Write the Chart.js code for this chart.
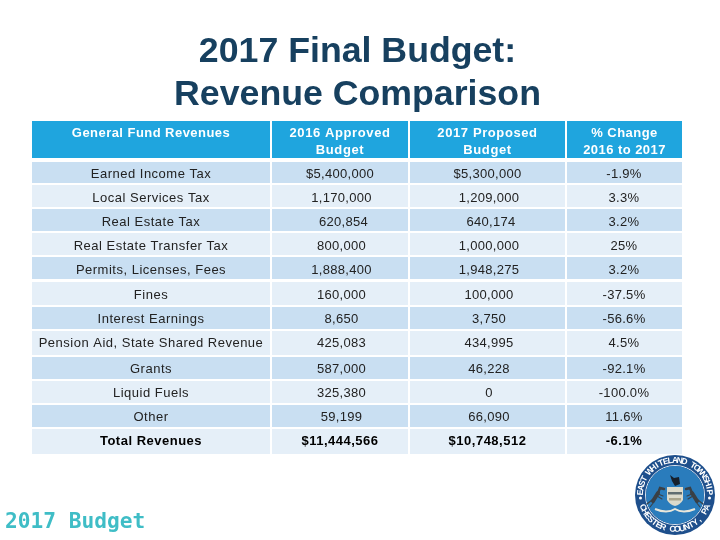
<!DOCTYPE html>
<html>
<head>
<meta charset="utf-8">
<style>html,body{margin:0;padding:0;background:#fff}canvas{display:block}</style>
<script src="https://cdn.jsdelivr.net/npm/chart.js@4"></script>
</head>
<body>
<canvas id="c" width="720" height="540"></canvas>
<script>
const titleLines = ['2017 Final Budget:', 'Revenue Comparison'];
const footerText = '2017 Budget';
const headers = [['General Fund Revenues'], ['2016 Approved', 'Budget'], ['2017 Proposed', 'Budget'], ['% Change', '2016 to 2017']];
const categories = ['Earned Income Tax', 'Local Services Tax', 'Real Estate Tax', 'Real Estate Transfer Tax', 'Permits, Licenses, Fees', 'Fines', 'Interest Earnings', 'Pension Aid, State Shared Revenue', 'Grants', 'Liquid Fuels', 'Other', 'Total Revenues'];
const approved2016 = ['$5,400,000', '1,170,000', '620,854', '800,000', '1,888,400', '160,000', '8,650', '425,083', '587,000', '325,380', '59,199', '$11,444,566'];
const proposed2017 = ['$5,300,000', '1,209,000', '640,174', '1,000,000', '1,948,275', '100,000', '3,750', '434,995', '46,228', '0', '66,090', '$10,748,512'];
const pctChange = ['-1.9%', '3.3%', '3.2%', '25%', '3.2%', '-37.5%', '-56.6%', '4.5%', '-92.1%', '-100.0%', '11.6%', '-6.1%'];

// layout (pixel grid of the linear scales)
const colEdges = [[32, 270], [272, 408], [410, 565], [567, 682]];
const rowEdges = [[121, 158], [162, 183], [185, 207], [209, 231], [233, 255], [257, 279], [282, 305], [307, 329], [331, 355], [357, 379], [381, 403], [405, 427], [429, 454]];
const rowTextY = [133, 174, 198, 222, 246, 270, 295, 319, 343, 369, 393, 417, 441];
const bodyTextDx = [0, 1.5, 1.5, -0.5];
const paddedRow = 2; // the Real Estate Tax figures sit further right in their cells
const TOP = 117;
const HEADER = '#1fa5de', DARK = '#c9dff2', LIGHT = '#e5eff8';
const columns = [categories, approved2016, proposed2017, pctChange];

const datasets = columns.map((col, c) => ({
  label: headers[c].join(' '),
  stack: 'table',
  barThickness: colEdges[c][1] - colEdges[c][0],
  inflateAmount: 0,
  borderWidth: 0,
  backgroundColor: rowEdges.map((_, r) => r === 0 ? HEADER : (r % 2 ? DARK : LIGHT)),
  data: rowEdges.map(e => ({ x: (colEdges[c][0] + colEdges[c][1]) / 2, y: [e[0], e[1]] }))
}));

function seal(ctx) {
  const cx = 675, cy = 495;
  ctx.save();
  ctx.translate(cx, cy);
  ctx.fillStyle = '#1e4f8c';
  ctx.beginPath(); ctx.arc(0, 0, 40, 0, Math.PI * 2); ctx.fill();
  ctx.strokeStyle = '#dfe8f2'; ctx.lineWidth = 1;
  ctx.beginPath(); ctx.arc(0, 0, 29.5, 0, Math.PI * 2); ctx.stroke();
  ctx.fillStyle = '#2a7cbc';
  ctx.beginPath(); ctx.arc(0, 0, 29, 0, Math.PI * 2); ctx.fill();
  // ring text
  ctx.fillStyle = '#ffffff';
  ctx.font = 'bold 8.5px "Liberation Sans"';
  ctx.textAlign = 'center'; ctx.textBaseline = 'middle';
  const top = 'EAST WHITELAND TOWNSHIP', bottom = 'CHESTER COUNTY, PA';
  [...top].forEach((ch, i) => {
    const a = (i - (top.length - 1) / 2) * 0.136;
    ctx.save(); ctx.rotate(a); ctx.fillText(ch, 0, -34.5); ctx.restore();
  });
  [...bottom].forEach((ch, i) => {
    const a = (i - (bottom.length - 1) / 2) * 0.142;
    ctx.save(); ctx.rotate(-a); ctx.fillText(ch, 0, 34.5); ctx.restore();
  });
  [-1, 1].forEach(s => { ctx.beginPath(); ctx.arc(s * 34.5, 3, 1.5, 0, Math.PI * 2); ctx.fill(); });
  // shield
  ctx.fillStyle = '#dcdacb';
  ctx.beginPath(); ctx.moveTo(-8, -8); ctx.lineTo(8, -8); ctx.lineTo(8, 5); ctx.quadraticCurveTo(5, 10, 0, 11); ctx.quadraticCurveTo(-5, 10, -8, 5); ctx.closePath(); ctx.fill();
  ctx.fillStyle = '#5f6c70'; ctx.fillRect(-7, -3, 14, 2.5);
  ctx.fillStyle = '#a9a48c'; ctx.fillRect(-6, 3, 12, 2.5);
  // eagle
  ctx.fillStyle = '#16202c';
  ctx.beginPath(); ctx.moveTo(-5, -20); ctx.lineTo(-1, -17); ctx.lineTo(4, -18); ctx.lineTo(5, -11); ctx.lineTo(0, -9); ctx.lineTo(-3, -14); ctx.closePath(); ctx.fill();
  // horses
  [-1, 1].forEach(s => {
    ctx.strokeStyle = '#3a4046'; ctx.lineCap = 'round';
    ctx.lineWidth = 4;
    ctx.beginPath(); ctx.moveTo(s * 22, 6); ctx.lineTo(s * 17, -2); ctx.stroke();
    ctx.lineWidth = 2.4;
    ctx.beginPath(); ctx.moveTo(s * 17, -2); ctx.lineTo(s * 15, -7); ctx.lineTo(s * 11, -6); ctx.stroke();
    ctx.lineWidth = 1.1;
    ctx.beginPath(); ctx.moveTo(s * 21, 7); ctx.lineTo(s * 25, 12); ctx.moveTo(s * 23, 5); ctx.lineTo(s * 28, 9);
    ctx.moveTo(s * 17, -1); ctx.lineTo(s * 12, 1); ctx.moveTo(s * 18, 1); ctx.lineTo(s * 13, 4); ctx.stroke();
  });
  // ribbon
  ctx.strokeStyle = '#e8e6da'; ctx.lineWidth = 2; ctx.lineCap = 'butt';
  ctx.beginPath(); ctx.moveTo(-20, 14); ctx.quadraticCurveTo(-8, 19, 0, 14); ctx.quadraticCurveTo(8, 19, 20, 14); ctx.stroke();
  ctx.restore();
}

const tablePlugin = {
  id: 'tableText',
  afterDatasetsDraw(chart) {
    const ctx = chart.ctx, xs = chart.scales.x, ys = chart.scales.y;
    ctx.save();
    ctx.textAlign = 'center'; ctx.textBaseline = 'middle';
    headers.forEach((lines, c) => {
      const x = xs.getPixelForValue((colEdges[c][0] + colEdges[c][1]) / 2);
      ctx.letterSpacing = c === 0 || c === 3 ? '0.45px' : '0.6px';
      ctx.font = 'bold 13px "Liberation Sans"'; ctx.fillStyle = '#ffffff';
      lines.forEach((t, i) => ctx.fillText(t, x, ys.getPixelForValue(rowTextY[0] + i * 17)));
    });
    columns.forEach((col, c) => {
      const x = (colEdges[c][0] + colEdges[c][1]) / 2;
      col.forEach((t, r) => {
        const total = r === col.length - 1;
        ctx.letterSpacing = total ? '0.5px' : (c === 0 ? '0.5px' : '0.3px');
        ctx.font = (total ? 'bold ' : '') + '13px "Liberation Sans"';
        ctx.fillStyle = total ? '#000000' : '#222222';
        let dx = t[0] === '$' ? 0 : bodyTextDx[c];
        if (r === paddedRow && (c === 1 || c === 2)) dx += 2;
        ctx.fillText(t, xs.getPixelForValue(x + dx), ys.getPixelForValue(rowTextY[r + 1]));
      });
    });
    ctx.letterSpacing = '0px';
    ctx.textAlign = 'left'; ctx.textBaseline = 'alphabetic';
    ctx.font = 'bold 21.2px "DejaVu Sans Mono"'; ctx.fillStyle = '#3fbdc6';
    ctx.fillText(footerText, xs.getPixelForValue(5), ys.getPixelForValue(528));
    ctx.restore();
    seal(ctx);
  }
};

new Chart(document.getElementById('c'), {
  type: 'bar',
  data: { datasets },
  plugins: [tablePlugin],
  options: {
    responsive: false,
    animation: false,
    layout: { padding: { left: 0, right: 5, top: 0, bottom: 0 } },
    scales: {
      x: { type: 'linear', min: 0, max: 715, stacked: true, display: false, offset: false },
      y: { type: 'linear', min: TOP, max: 540, reverse: true, display: false }
    },
    plugins: {
      legend: { display: false },
      tooltip: { enabled: false },
      title: {
        display: true,
        text: titleLines,
        color: '#17405f',
        font: { family: '"Liberation Sans"', size: 35.7, weight: 'bold', lineHeight: 1.204 },
        padding: { top: 31, bottom: 0 }
      }
    }
  }
});
</script>
</body>
</html>
